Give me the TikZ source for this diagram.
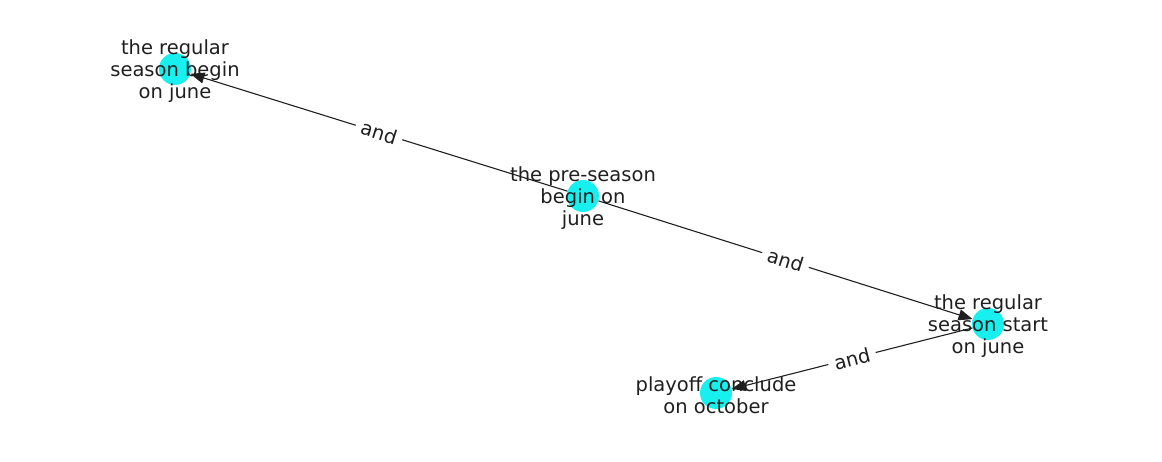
\documentclass[tikz,border=0pt]{standalone}
\usepackage{fontspec}
\setmainfont{DejaVu Sans}
\usetikzlibrary{arrows.meta}
\definecolor{nodecyan}{RGB}{24,240,240}

\begin{document}
\begin{tikzpicture}[
            x=1pt, y=-1pt, % pixel units, y going down like the image
            every node/.style={font=\fontsize{19.5}{22}\selectfont, text=black!88},
            dot/.style={circle, fill=nodecyan, inner sep=0pt, minimum size=32pt},
            txt/.style={align=center, inner sep=0pt, yshift=-2pt},
            link/.style={-{Triangle[length=14pt, width=11pt]}, line width=1.1pt, black!88},
            rel/.style={midway, sloped, fill=white, inner sep=6pt}
        ]

            % 1. Page size
            \useasboundingbox (0, 0) rectangle (1162, 462);

            % 2. The nodes (dots first, text on top)
            \node[dot] (begin) at (175, 69) {};
            \node[dot] (pre) at (583, 196) {};
            \node[dot] (start) at (988, 324) {};
            \node[dot] (playoff) at (716, 393) {};

            % 3. The "and" links
            \draw[link] (pre) -- node[rel] (and1) {and} (begin);
            \draw[link] (pre) -- node[rel] (and2) {and} (start);
            \draw[link] (start) -- node[rel] (and3) {and} (playoff);

            % 4. The texts
            \node[txt] (tbegin) at (175, 69) {the regular\\season begin\\on june};
            \node[txt] (tpre) at (583, 196) {the pre-season\\begin on\\june};
            \node[txt] (tstart) at (988, 324) {the regular\\season start\\on june};
            \node[txt] (tplayoff) at (716, 393) {playoff conclude\\on october};

        \end{tikzpicture}
\end{document}
